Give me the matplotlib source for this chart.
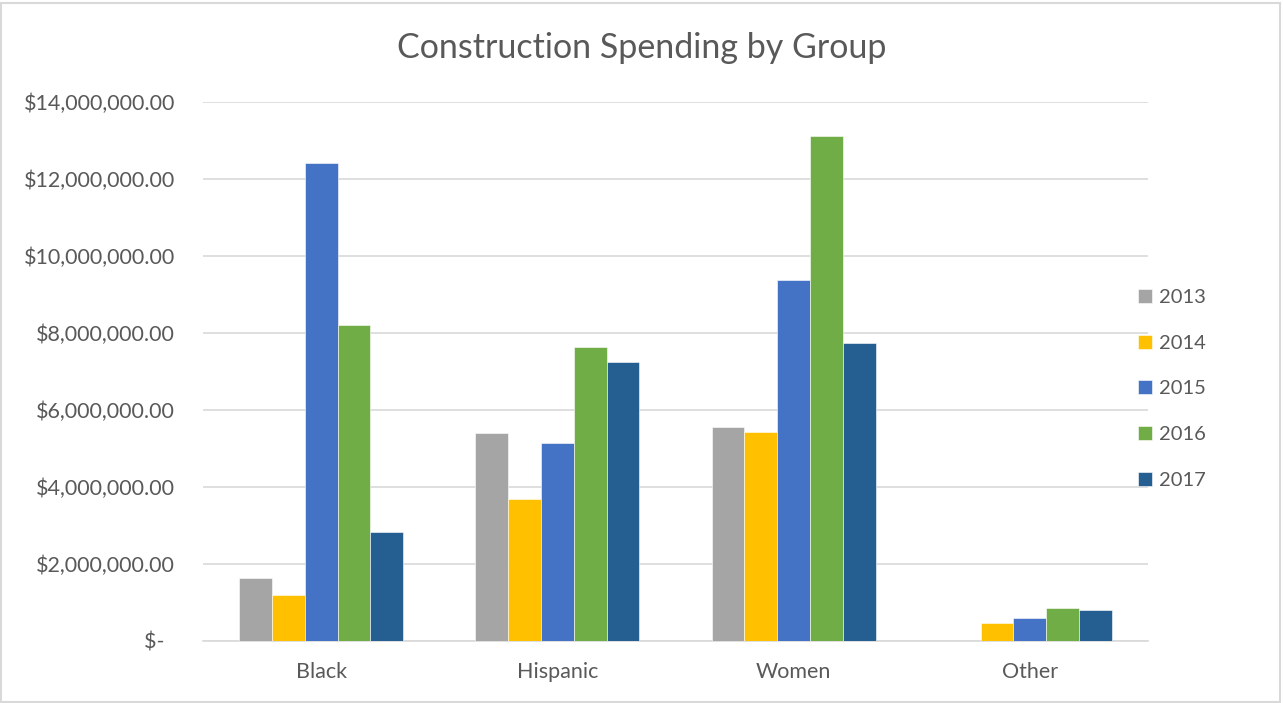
import matplotlib
matplotlib.use('Agg')
import matplotlib.pyplot as plt
import numpy as np
from matplotlib.patches import Rectangle

# data (dollars)
groups = ['Black', 'Hispanic', 'Women', 'Other']
years = ['2013', '2014', '2015', '2016', '2017']
spend_2013 = [1630000, 5390000, 5550000, 0]
spend_2014 = [1190000, 3680000, 5420000, 480000]
spend_2015 = [12420000, 5130000, 9380000, 590000]
spend_2016 = [8210000, 7640000, 13120000, 850000]
spend_2017 = [2830000, 7250000, 7730000, 810000]
yticks = [0, 2000000, 4000000, 6000000, 8000000, 10000000, 12000000, 14000000]
ytick_labels = ['$-  ', '$2,000,000.00', '$4,000,000.00', '$6,000,000.00',
                '$8,000,000.00', '$10,000,000.00', '$12,000,000.00', '$14,000,000.00']

series = [spend_2013, spend_2014, spend_2015, spend_2016, spend_2017]
colors = ['#A5A5A5', '#FFC000', '#4472C4', '#70AD47', '#255E91']

plt.rcParams['font.family'] = ['Lato', 'DejaVu Sans']
txt = '#595959'

fig = plt.figure(figsize=(12.83, 7.03), dpi=100)
ax = fig.add_axes([0.1582, 0.0882, 0.7366, 0.7667])

x = np.arange(len(groups))
w = 0.139
for i, vals in enumerate(series):
    ax.bar(x + (i - 2) * w, vals, width=w, color=colors[i], label=years[i],
           edgecolor='white', linewidth=0.4, zorder=3)

ax.set_xlim(-0.5, len(groups) - 0.5)
ax.set_ylim(0, 14000000)
ax.set_yticks(yticks)
ax.set_yticklabels(ytick_labels)
ax.set_xticks(x)
ax.set_xticklabels(groups)
ax.grid(axis='y', color='#d9d9d9', linewidth=1.2, zorder=0)
for s in ['top', 'right', 'left']:
    ax.spines[s].set_visible(False)
ax.spines['bottom'].set_color('#d9d9d9')
ax.spines['bottom'].set_linewidth(1.2)
ax.tick_params(axis='both', length=0, labelsize=15.5, colors=txt)
ax.tick_params(axis='y', pad=20)
ax.tick_params(axis='x', pad=15)

fig.text(0.5, 0.932, 'Construction Spending by Group', ha='center', va='center',
         fontsize=24.5, color=txt)

leg = ax.legend(loc='center left', bbox_to_anchor=(0.979, 0.468), frameon=False,
                fontsize=14.5, handlelength=0.7, handleheight=0.7,
                handletextpad=0.35, labelspacing=1.42, borderpad=0)
for t in leg.get_texts():
    t.set_color(txt)

fig.patches.append(Rectangle((0.001, 0.002), 0.997, 0.994, transform=fig.transFigure,
                             fill=False, edgecolor='#d9d9d9', linewidth=1.5))

fig.savefig('out.png', dpi=100)
